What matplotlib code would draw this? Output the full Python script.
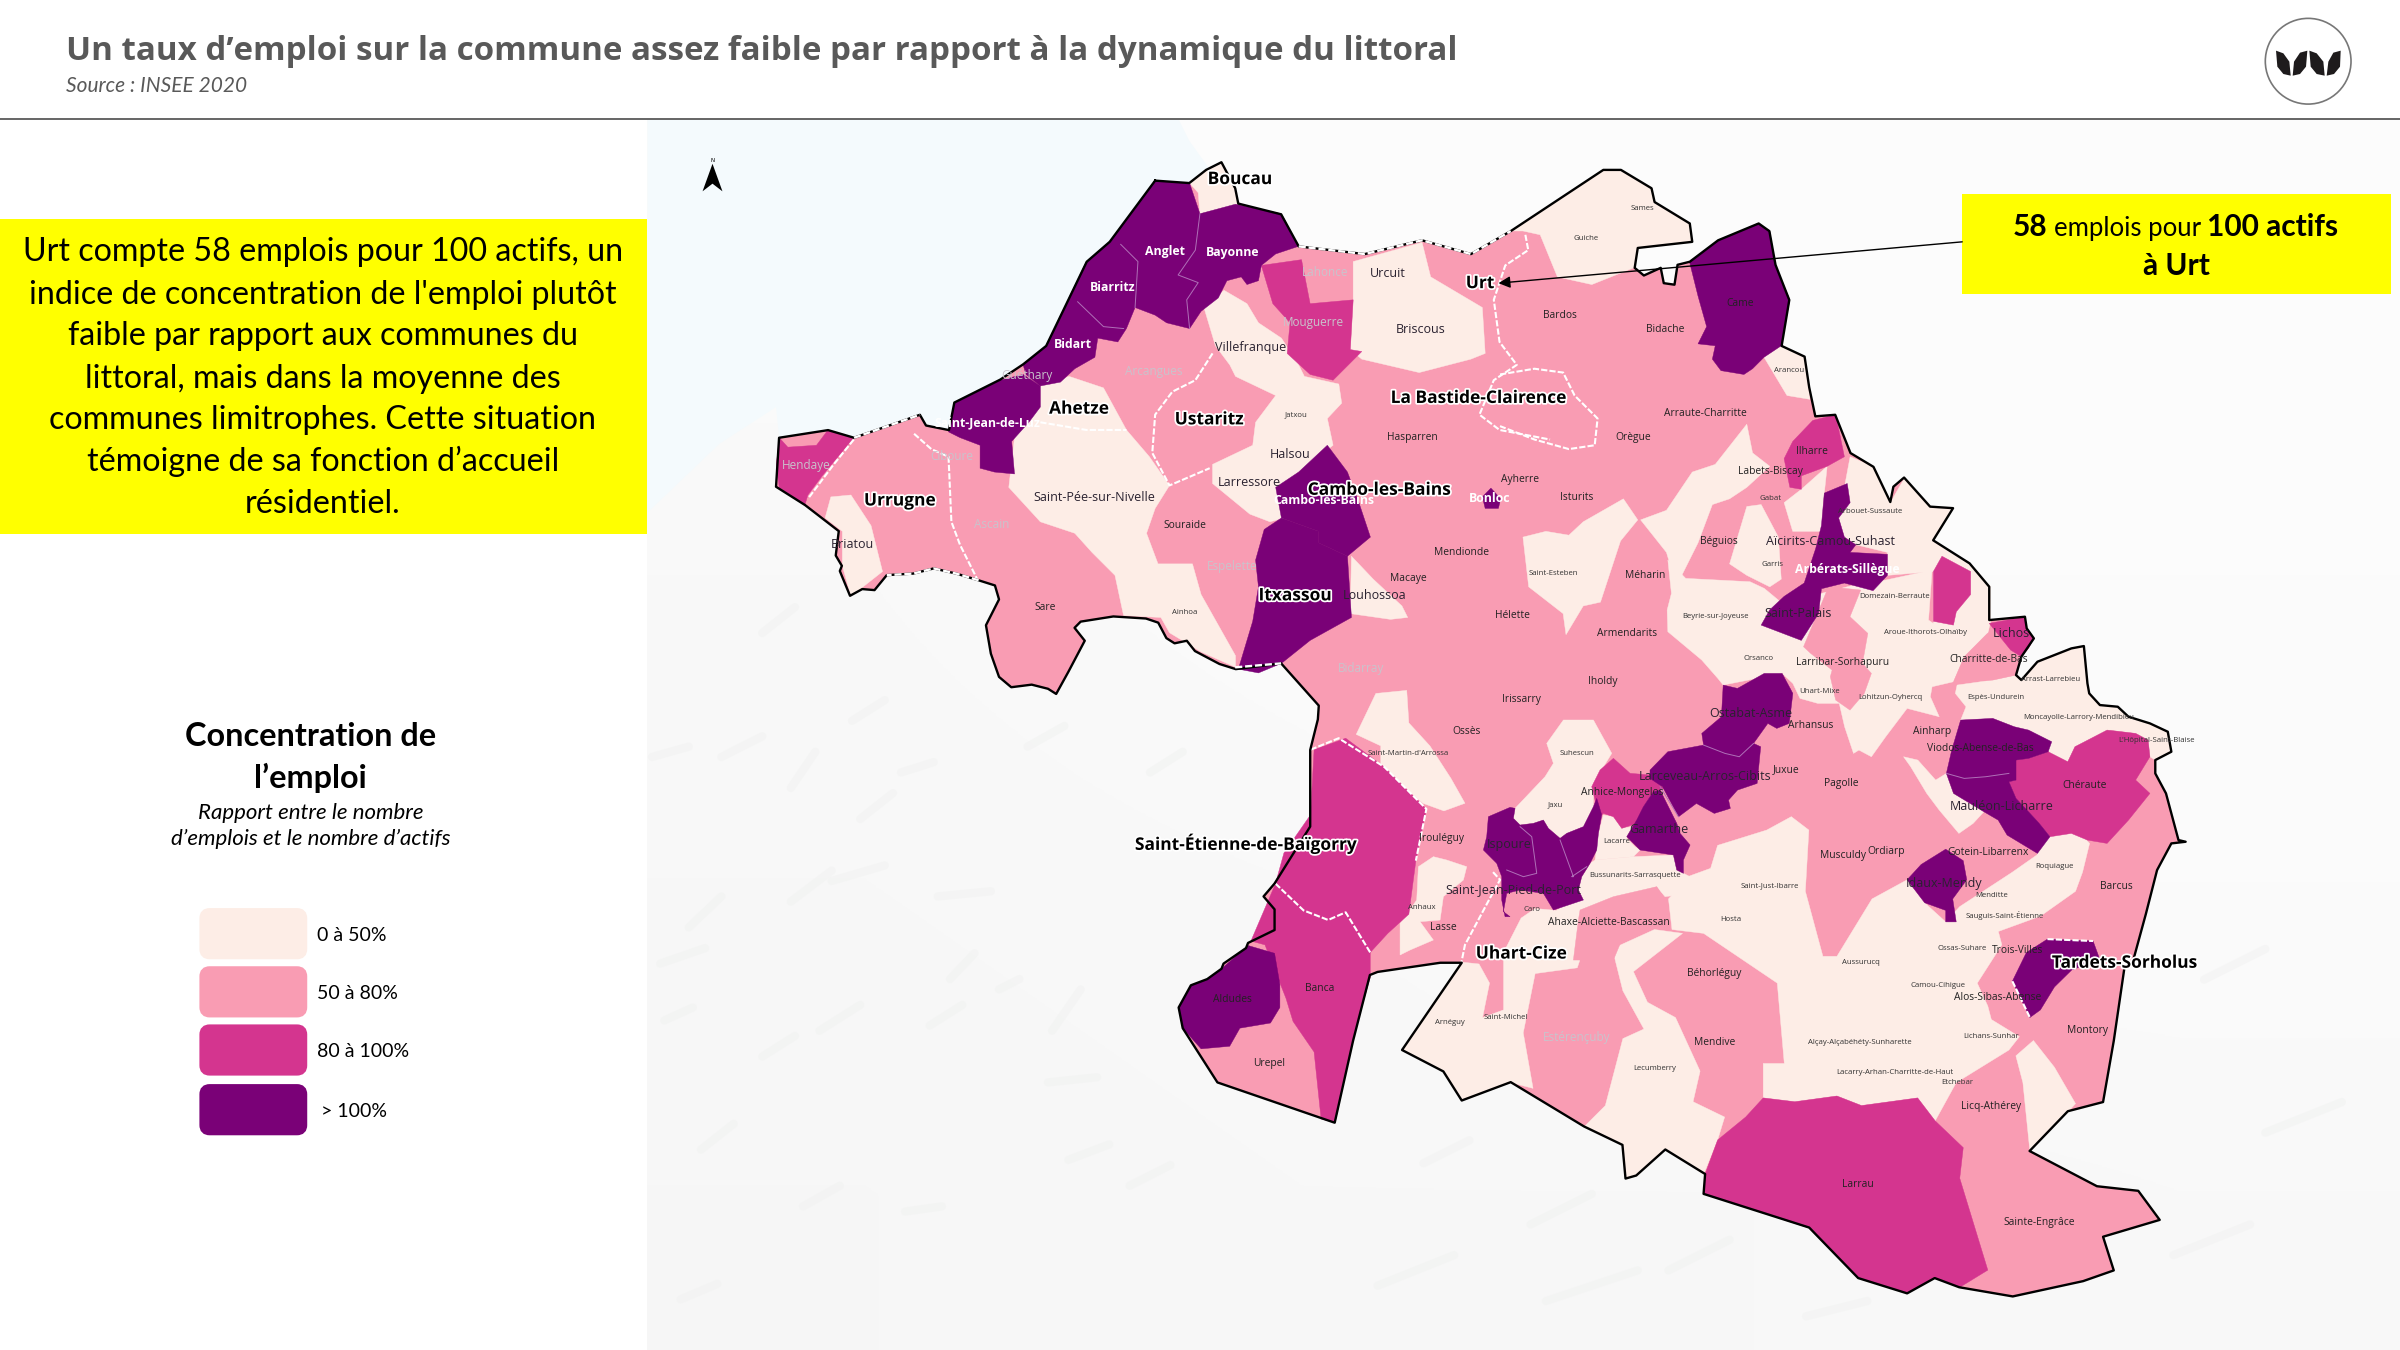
#!/usr/bin/python
import numpy as np
import matplotlib
matplotlib.use('Agg')
import matplotlib.pyplot as plt
import matplotlib.patheffects as pe
from matplotlib.patches import Polygon, Rectangle, Circle, FancyBboxPatch

# crop helpers: shapes were traced on zoomed crops, these bring them back to
# the 1568x882 page grid used by the axes
def z1(p): return [(424.7 + x * .375, 78.4 + y * .25) for x, y in p]
def z2(p): return [(980 + x * .375, 78.4 + y * .25) for x, y in p]
def z3(p): return [(718.7 + x * .4585, 457.3 + y * .25) for x, y in p]
def z4(p): return [(1078 + x * .2333, 365.9 + y * .2178) for x, y in p]
def z6(p): return [((2200 + x / 3) / 1.5306, (y / 3) / 1.5306) for x, y in p]
def z7(p): return [(914.7 + x * .2178, 470.4 + y * .2178) for x, y in p]
def z8(p): return [(418 + x * .2667, 352.8 + y * .3375) for x, y in p]

COL_LOW = '#FDEDE6'
COL_MID = '#F99CB3'
COL_HIGH = '#D4358F'
COL_TOP = '#7A0177'

# outer limit, clockwise from Anglet
OUTLINE = ([(754.7,118),(777,119.6),(788,111),(798,106),(807,123),(809,133),(837,140),(848.5,161),
    (891.6,166),(929,157),(961,166),(987,151),(1047.5,111),(1059,111),(1079,123),(1081,132),(1104,146),
    (1105.6,158),(1070,162),(1068,175),(1074,180),(1085,175),(1087,185),(1094,186),(1096,173),(1104,171),
    (1122.5,157),(1149,146),(1156,151),(1160,173),(1169,196),(1164,226),(1179,233),(1182,253),(1186,272),
    (1199,271),(1209,296),(1224,305),(1235,328),(1237,318),(1244,312),(1261,331),(1276,332),(1263,353)]
    + z4([(895,10),(950,80),(950,180),(1050,170),(1055,205),(1075,235),(1040,290),(1025,345),(1040,360),(1085,305),
          (1180,265),(1215,258),(1225,370),(1230,400),(1260,435),(1310,440),(1340,470),(1400,490),(1450,515),(1460,575),
          (1415,600),(1415,640),(1445,700),(1480,840),(1500,845),(1460,850),(1420,930)])
    + [(1402,597),(1393,630),(1388,632),(1381,680),(1374,720),
    (1351,726),(1326,752),(1370,775),(1397,778),(1411,797),(1374,808),(1381,830),(1361,837),(1315,847),
    (1280,841),(1264,835),(1246,845),(1214,835),(1182,802),(1113,780),(1114,767),(1088,751),(1069,768),
    (1062,770),(1060,748),(1035,736),(987,707),(955,719),(943,700),(916,686),(955,629),(941,629),(900,635),
    (895,637),(884,680),(872,733.5)]
    + z8([(1415,1050),(1330,945),(1320,905),(1350,862),(1390,850),(1425,830),(1430,820),(1485,790),(1490,780),
          (1555,755),(1555,715),(1528,690),(1555,665)])
    + [(856,540),(856,490),(861,470),(861.6,461),(837,433.4)]
    + z8([(1460,250),(1420,240),(1360,215),(1340,195),(1310,200),(1290,190),(1270,160),(1240,152),(1160,148),(1080,158),
          (1065,170),(1090,195),(1050,255),(1020,298),(1000,288),(960,280),(910,285),(880,265),(860,220),(848,165),
          (880,115),(870,88),(830,78),(775,65),(720,55),(670,65),(605,68),(575,97),(545,95),(515,108),(490,60),(495,50),(480,30)])
    + [(548,347),(526,330),(507,318),(509,286),(541,281),(558,286),(601,271),(605,278),(620,281),(623.5,263),(653.5,248),
    (668.5,238),(683.5,226),(710,171),(725,158)])

# stretches of the limit that carry white dashes over the black
DOTTED = [[(848.5,161),(891.6,166),(929,157),(961,166),(987,151)],
    [(558,286),(601,271)],
    z8([(830,78),(775,65),(720,55),(670,65),(605,68)]),
    [(807,436),(837,433.4)]]

SEA = [(423,78),(770,78),(777,92),(790,110),(777,119.6),(754.7,118),(725,158),(710,171),(683.5,226),(668.5,238),
    (653.5,248),(623.5,263),(620,281),(605,278),(601,271),(558,286),(541,281),(509,286),(507,266),(470,290),(423,335)]

# coarse grey tone of the relief background, top to bottom
BG_TONE = [[250, 252, 252, 252], [248, 250, 251, 251], [247, 248, 250, 250], [246, 247, 247, 248]]
# shaded ridges of the relief
RIDGES = z8([(300,180),(380,130)]), z8([(370,480),(430,410)]), z8([(640,450),(720,430)]), z8([(470,660),(600,630)]), \
    z8([(730,690),(860,680)]), z8([(760,850),(820,800)]), z8([(710,940),(790,900)]), z8([(440,950),(540,900)]), \
    z8([(50,820),(160,790)]), z8([(120,750),(200,690)]), z8([(60,930),(130,905)]), z8([(1010,950),(1080,870)]), \
    z8([(880,870),(930,850)]), z8([(1000,1050),(1120,1040)]), z8([(1050,1200),(1150,1170)]), z8([(150,1180),(230,1130)]), \
    z8([(400,1290),(490,1250)]), z8([(100,1470),(190,1440)]), z8([(650,1300),(740,1290)]), z8([(540,540),(620,490)]), \
    z8([(370,700),(470,640)]), z8([(200,420),(300,380)]), z8([(520,350),(600,310)]), z8([(30,420),(120,400)]), \
    z8([(950,400),(1040,360)]), z8([(1250,450),(1330,410)]), z8([(1200,1250),(1300,1210)]), z8([(300,1000),(380,960)]), \
    [(930,760),(960,745)], [(1000,800),(1040,780)], [(1090,830),(1130,810)], [(1180,860),(1220,850)], [(1420,820),(1470,800)], \
    [(1440,640),(1480,620)], [(900,840),(950,820)], [(1480,740),(1530,720)], [(1010,850),(1070,830)]

LOW_AREAS = [
    z1([(940,165),(970,130),(995,112),(1020,180),(1025,220),(958,245),(955,190)]),
    z1([(315,985),(350,980),(385,1060),(405,1180),(350,1245),(335,1165),(335,1075),(305,1040)]),
    z1([(680,695),(730,670),(790,700),(830,810),(870,880),(905,955),(880,1015),(865,1080),(885,1160),(945,1160),
        (960,1240),(1020,1400),(1020,1430),(960,1390),(905,1340),(890,1300),(825,1295),(810,1190),(770,1130),
        (740,1080),(680,1050),(625,960),(635,830),(680,750)]),
    z1([(1000,445),(1040,480),(1060,530),(1100,570),(1130,640),(1140,670),(1200,690),(1205,740),(1180,780),
        (1190,850),(1130,920),(1095,960),(1105,1040),(1080,1050),(1045,1030),(980,950),(980,900),(1050,850),
        (1055,790),(1090,720),(1020,670),(1010,640),(985,590),(965,490)]),
    z1([(1225,370),(1345,320),(1360,410),(1450,490),(1455,610),(1430,625),(1340,660),(1240,625),(1220,600),(1225,470)]),
    z1([(1222,1140),(1260,1200),(1310,1270),(1320,1300),(1290,1305),(1220,1290)]),
    z2([(20,290),(180,130),(210,130),(265,180),(270,215),(330,270),(335,320),(240,335),(235,385),(160,430),(100,410),(70,300),(40,290)]),
    z2([(490,590),(530,620),(540,730),(500,720),(480,670),(460,620)]),
    z2([(430,795),(440,870),(470,905),(430,960),(400,990),(370,1005),(345,1105),(315,1195),(300,1180),(290,1130),
        (245,1045),(290,1020),(335,920),(375,900)]),
    z2([(430,1010),(455,1005),(485,1090),(490,1200),(470,1220),(430,1190),(400,1160)]),
    z2([(40,1090),(80,1075),(120,1085),(145,1050),(215,990),(240,1045),(210,1100),(175,1260),(145,1270),(115,1345),(110,1290),(50,1220)]),
    z2([(495,1000),(525,965),(570,905),(565,975),(560,1075),(510,1075)]),
    z2([(590,1040),(610,880),(650,905),(680,1000),(705,935),(750,1010),(790,1015),(755,1100),(820,1160),(855,1220),
        (855,1310),(850,1340),(755,1340),(755,1180),(675,1190),(675,1130),(620,1110),(600,1090)]),
    z4([(50,0),(100,55),(280,65),(320,85),(365,125),(480,100),(590,70),(660,60),(790,30),(780,180),(820,210),(880,120),
        (900,60),(895,10),(950,80),(950,195),(945,220),(880,290),(850,365),(790,380),(785,410),(810,470),(720,445),
        (660,530),(620,590),(585,570),(570,580),(545,500),(530,430),(470,430),(420,415),(400,370),(370,340),(205,375),
        (190,355),(145,300),(50,215),(48,150),(60,100)]),
    z4([(860,375),(960,360),(1025,345),(1040,360),(1085,305),(1180,265),(1215,258),(1225,370),(1230,400),(1260,435),
        (1310,440),(1340,470),(1400,490),(1450,515),(1460,575),(1415,600),(1400,590),(1395,540),(1360,520),(1290,510),
        (1190,560),(1170,605),(1130,600),(1110,560),(1070,515),(1020,500),(960,475),(870,480),(885,440),(855,400)]),
    z4([(710,590),(750,600),(800,660),(830,640),(850,700),(935,755),(905,790),(865,820),(810,750),(775,700),(730,620)]),
    z3([(840,460),(870,440),(880,380),(950,340),(985,305),(1010,340),(1005,500),(1030,670),(1050,670),(1100,520),
        (1150,470),(1175,530),(1205,580),(1225,540),(1300,450),(1335,405),(1350,340),(1395,345),(1410,375),(1400,450),
        (1390,500),(1340,565),(1280,605),(1285,640),(1250,740),(1265,800),(1270,835),(1310,880),(1295,915),(1220,1000),
        (1190,1100),(1165,1040),(1085,1060),(1050,1035),(990,1050),(945,1040),(945,950),(975,950),(965,740),(860,610),
        (815,600),(810,520)]),
    z3([(730,650),(790,600),(830,610),(760,710),(780,790),(820,830),(855,970),(845,1050),(890,1090),(880,1150),
        (860,1240),(805,1175),(765,1245),(750,1250),(745,1165),(690,1115),(720,1060),(745,885),(775,860),(745,760)]),
    z3([(515,685),(540,690),(555,740),(545,830),(575,810),(575,660),(600,570),(620,545),(650,550),(680,515),(700,525),
        (700,590),(680,700),(620,715),(603,870),(617,1015),(585,1000),(515,1045),(490,970),(430,915)]),
    z7([(100,410),(140,420),(200,440),(190,480),(130,530),(120,600),(60,605),(100,660),(30,690),(0,705),(0,610),(50,540),(55,440)]),
    z3([(393,-17),(437,-25),(440,60),(470,120),(500,205),(520,270),(490,290),(460,270),(400,175),(400,120),(365,90)]),
    z7([(490,0),(580,0),(635,100),(580,190),(580,260),(550,320),(500,340),(480,355),(445,325),(430,300),(400,310),(360,315),
        (340,295),(345,265),(435,170),(460,130),(440,70)]),
    z7([(610,285),(640,290),(665,325),(695,320),(680,355),(705,380),(720,390),(700,410),(585,420),(595,340)]),
    z7([(585,420),(700,410),(820,405),(830,450),(850,460),(870,470),(870,520),(795,530),(770,500),(640,540),(540,570),(550,540),(535,510),(545,470),(570,430)]),
    z3([(1305,930),(1330,890),(1360,960),(1390,1055),(1380,1075),(1325,1180),(1315,1000)]),
]
# pink communes sitting inside the low areas
MID_OVER = [
    z4([(430,260),(500,80),(590,90),(560,170),(610,220),(595,310),(620,340),(600,400),(560,450),(520,420),(505,350),(510,330),(450,280)]),
    z4([(945,220),(985,245),(1025,310),(1025,345),(960,360),(850,365),(880,290)]),
    z7([(540,570),(640,530),(770,500),(795,540),(720,570),(690,610),(665,660),(640,720),(520,720),(535,600)]),
]
HIGH_AREAS = [
    z1([(225,830),(220,900),(225,960),(270,1005),(275,980),(300,930),(355,830),(310,810),(290,850),(240,855)]),
    z1([(1065,380),(1135,365),(1150,480),(1225,470),(1220,600),(1240,605),(1190,680),(1150,665),(1110,610),(1115,530),(1085,480)]),
    z2([(545,785),(585,770),(600,880),(570,905),(525,930),(525,965),(505,960),(495,885),(510,840)]),
    z2([(770,1140),(820,1180),(820,1240),(795,1285),(790,1320),(755,1310),(755,1180)]),
    z4([(950,190),(1050,170),(1055,205),(1075,235),(1060,265),(1040,290),(1010,270)]),
    z4([(1025,600),(1060,595),(1115,575),(1170,605),(1190,560),(1280,510),(1360,520),(1395,540),(1400,590),(1360,660),
        (1400,700),(1340,780),(1280,850),(1225,840),(1180,820),(1120,830),(1090,790),(1060,755),(1025,715),(1005,665),(1025,660)]),
    z7([(640,115),(690,160),(750,165),(790,205),(760,215),(730,260),(710,310),(665,325),(640,290),(610,280),(605,285),(590,260),(575,200),(600,150)]),
    z3([(350,100),(405,175),(465,285),(450,420),(440,560),(410,610),(385,660),(350,560),(325,575),(290,550),(250,480),(262,400),(300,300),(305,130)]),
    z3([(250,480),(290,550),(325,575),(350,555),(385,660),(385,725),(360,890),(335,1105),(315,1095),(305,920),(275,840),(265,780),(235,640),(215,630)]),
    z3([(945,1040),(990,1050),(1050,1035),(1085,1060),(1165,1040),(1190,1100),(1230,1170),(1225,1250),(1265,1490),(1225,1535),
        (1190,1510),(1150,1550),(1080,1510),(1010,1380),(860,1290),(862,1240),(880,1150),(920,1090)]),
]
TOP_AREAS = [
    z1([(880,158),(940,165),(958,245),(1020,220),(1100,245),(1130,330),(1090,350),(1065,380),(1060,420),(1040,430),(1030,410),
        (1005,420),(990,465),(960,500),(940,545),(900,530),(880,510),(845,490),(830,545),(815,580),(780,570),(775,620),(740,650),
        (715,685),(680,695),(655,665),(650,640),(690,590),(760,370),(800,320)]),
    z1([(530,740),(610,680),(650,665),(680,695),(680,750),(660,790),(630,840),(635,925),(600,920),(575,910),(575,850),(540,830),(520,815),(525,780)]),
    z1([(1180,850),(1215,920),(1235,1000),(1255,1090),(1215,1140),(1165,1105),(1165,1075),(1100,1040),(1090,960),(1130,920)]),
    z1([(1100,1040),(1165,1075),(1165,1105),(1215,1140),(1222,1300),(1150,1360),(1100,1420),(1060,1445),(1025,1435),(1050,1310),(1060,1220),(1055,1150),(1070,1070)]),
    z1([(1450,985),(1465,962),(1482,990),(1478,1015),(1455,1015)]),
    z2([(330,370),(380,315),(450,270),(470,290),(480,380),(505,470),(490,590),(460,620),(440,650),(425,665),(385,655),(370,625),(375,590),(345,585),(360,540),(345,460)]),
    z2([(565,975),(605,950),(610,1000),(590,1040),(600,1090),(620,1110),(610,1130),(675,1135),(675,1190),(650,1230),(600,1210),(560,1225),(555,1290),(525,1360),(455,1320),(470,1280),(495,1245),(530,1210),(550,1120),(560,1060)]),
    z4([(205,375),(245,385),(320,340),(370,340),(400,400),(390,490),(355,505),(330,490),(290,550),(310,560),(300,670),(245,690),(220,720),(225,745),(180,760),(130,730),(80,770),(35,680),(0,655),(0,630),(50,575),(150,555),(145,520),(200,470)]),
    z4([(870,480),(960,475),(1020,500),(1060,510),(1125,545),(1115,575),(1060,595),(1025,600),(1025,660),(1005,665),(1025,715),(1060,755),(1090,790),(1120,830),(1085,880),(1000,825),(975,780),(935,755),(850,700),(830,640),(845,570)]),
    z7([(780,210),(830,310),(840,340),(870,375),(850,420),(850,460),(830,450),(820,405),(720,390),(680,350),(710,300),(730,260),(760,215)]),
    z7([(265,290),(330,262),(345,265),(340,295),(360,315),(400,310),(430,300),(445,325),(480,355),(500,340),(550,320),(580,260),(590,235),(605,285),
        (595,340),(590,390),(570,430),(545,470),(535,510),(550,540),(460,570),(430,520),(360,510),(320,520),(310,575),(330,590),(315,590),(305,540),(305,470),(290,430),(250,390),(260,350)]),
    z3([(1205,390),(1230,420),(1235,470),(1215,520),(1220,580),(1205,580),(1205,550),(1175,530),(1150,470),(1170,430)]),
    z8([(1555,800),(1568,860),(1568,905),(1545,935),(1470,945),(1445,980),(1375,985),(1330,945),(1320,905),(1350,862),(1390,850),(1425,830),(1490,785)]),
    z3([(1350,625),(1415,630),(1425,680),(1385,705),(1360,750),(1340,810),(1325,830),(1300,735),(1320,660)]),
]
# dashed white limits between intercommunal groups
DASHED = [
    z1([(460,820),(490,860),(520,880),(525,1050),(540,1110),(570,1200)]),
    z1([(980,610),(950,680),(910,710),(880,770),(875,870),(905,955),(975,910)]),
    z1([(680,790),(760,810),(830,810)]),
    z1([(355,835),(320,900),(290,960),(275,990)]),
    z1([(1525,300),(1530,340),(1490,380),(1470,470),(1480,580),(1510,640),(1470,680),(1445,770),(1480,810),(1568,835)]),
    z2([(0,665),(60,650),(110,660),(130,720),(170,780),(165,850),(120,860),(60,835),(0,800)]),
    z3([(250,480),(290,550),(325,575),(350,555),(385,660)]),
    z3([(300,130),(340,100),(405,175),(465,285),(450,420)]),
    z3([(560,450),(570,470),(555,520),(520,640),(515,685)]),
    z3([(1350,625),(1415,630)]),
    z3([(1300,735),(1325,830)]),
]
THIN = [
    z1([(958,245),(950,340),(920,405),(955,425),(935,470),(940,545)]),
    z1([(820,325),(850,370),(845,490)]),
    z1([(745,475),(790,540),(825,545)]),
    z4([(150,555),(210,580),(250,590),(290,550)]),
    z4([(830,640),(880,655),(940,650),(1005,640)]),
    z7([(360,320),(395,350),(410,460),(370,470),(320,450)]),
    z7([(480,360),(520,470),(515,470),(560,440)]),
    z7([(780,200),(835,290)]),
]

# name, x, y
LABELS_BIG = [('Boucau',810,117),('Urt',967,185),('La Bastide-Clairence',966,260),('Ahetze',705,267),
    ('Ustaritz',790,274),('Urrugne',588,327),('Cambo-les-Bains',901,320),('Itxassou',846,389),
    ('Saint-Étienne-de-Baïgorry',814,551),('Uhart-Cize',994,623),('Tardets-Sorholus',1388,629)]
LABELS_WHITE = [('Anglet',761,164),('Bayonne',805,165),('Biarritz',727,188),('Bidart',701,225),
    ('Saint-Jean-de-Luz',645,276),('Arbérats-Sillègue',1207,372),('Cambo-les-Bains',865,327),('Bonloc',973,326)]
LABELS_PALE = [('Hendaye',527,304),('Guéthary',671,245),('Ciboure',622,298),('Ascain',648,343),('Arcangues',754,243),
    ('Lahonce',866,178),('Mouguerre',858,211),('Espelette',805,370),('Bidarray',889,437),('Estérençuby',1030,678)]
LABELS_MED = [('Urcuit',907,179),('Briscous',928,215),('Villefranque',817,227),('Halsou',843,297),('Larressore',816,315),
    ('Saint-Pée-sur-Nivelle',715,325),('Briatou',557,356),('Louhossoa',898,389),('Saint-Jean-Pied-de-Port',989,581),
    ('Ispoure',986,552),('Gamarthe',1084,542),('Larceveau-Arros-Cibits',1114,507),
    ('Ostabat-Asme',1144,466),('Aïcirits-Camou-Suhast',1196,354),('Saint-Palais',1175,401),
    ('Mauléon-Licharre',1308,527),('Lichos',1314,414),('Idaux-Mendy',1270,577)]
LABELS_SMALL = [('Souraide',774,343),('Sare',683,397),('Hasparren',923,286),('Ayherre',993,313),('Mendionde',955,361),
    ('Macaye',920,378),('Hélette',988,402),('Irissarry',994,457),('Ossès',958,478),('Irouléguy',942,548),('Lasse',943,606),
    ('Ahaxe-Alciette-Bascassan',1051,603),('Arhansus',1183,474),('Juxue',1167,503),('Pagolle',1203,512),('Musculdy',1204,559),
    ('Ordiarp',1232,556),('Béhorléguy',1120,636),('Mendive',1120,681),('Licq-Athérey',1301,723),('Montory',1364,673),
    ('Barcus',1383,579),('Chéraute',1362,513),('Ainharp',1262,478),('Larrau',1214,774),('Sainte-Engrâce',1332,799),
    ('Banca',862,646),('Urepel',829,695),('Aldudes',805,653),('Armendarits',1063,414),('Iholdy',1047,445),('Méharin',1075,376),
    ('Béguios',1123,354),('Labets-Biscay',1157,308),('Ilharre',1184,295),('Isturits',1030,325),('Orègue',1067,286),
    ('Arraute-Charritte',1114,270),('Bidache',1088,215),('Bardos',1019,206),('Came',1137,198),
    ('Anhice-Mongelos',1060,518),('Viodos-Abense-de-Bas',1294,489),('Trois-Villes',1318,621),('Charritte-de-Bas',1299,431),
    ('Larribar-Sorhapuru',1204,433),('Gotein-Libarrenx',1299,557),('Alos-Sibas-Abense',1305,652)]
LABELS_TINY = [('Jatxou',847,271),('Ainhoa',774,400),("Saint-Martin-d'Arrossa",920,492),('Suhescun',1030,492),('Jaxu',1016,526),
    ('Anhaux',929,593),('Arnéguy',947,668),('Saint-Michel',984,665),('Caro',1001,594),('Lacarre',1056,550),
    ('Bussunarits-Sarrasquette',1068,572),('Hosta',1131,601),('Saint-Just-Ibarre',1156,579),('Aussurucq',1216,629),
    ('Lecumberry',1081,698),('Alçay-Alçabéhéty-Sunharette',1215,681),('Lacarry-Arhan-Charritte-de-Haut',1238,701),
    ('Etchebar',1279,707),('Camou-Cihigue',1266,644),('Ossas-Suhare',1282,620),('Lichans-Sunhar',1301,677),('Roquiague',1342,566),
    ('Menditte',1301,585),('Sauguis-Saint-Étienne',1310,598),("L'Hôpital-Saint-Blaise",1409,484),('Moncayolle-Larrory-Mendibieu',1358,469),
    ('Espès-Undurein',1304,456),('Lohitzun-Oyhercq',1235,456),('Uhart-Mixe',1189,452),('Orsanco',1149,430),('Beyrie-sur-Joyeuse',1121,403),
    ('Arrast-Larrebieu',1340,444),('Aroue-Ithorots-Olhaïby',1258,413),('Domezain-Berraute',1238,390),('Garris',1158,369),
    ('Saint-Esteben',1015,375),('Gabat',1157,326),('Arbouet-Sussaute',1222,334),('Arancou',1169,242),('Guiche',1036,156),('Sames',1073,136)]

TITLE = 'Un taux d’emploi sur la commune assez faible par rapport à la dynamique du littoral'
SOURCE = 'Source : INSEE 2020'
BOX_LINES = ['Urt compte 58 emplois pour 100 actifs, un', "indice de concentration de l'emploi plutôt",
    'faible par rapport aux communes du', 'littoral, mais dans la moyenne des',
    'communes limitrophes. Cette situation', 'témoigne de sa fonction d’accueil', 'résidentiel.']
LEGEND_LABELS = ['0 à 50%', '50 à 80%', '80 à 100%', '> 100%']
LEGEND_COLORS = [COL_LOW, COL_MID, COL_HIGH, COL_TOP]
LEAVES = [[(228,152),(250,160),(268,185),(272,227),(250,222),(232,200)],
    [(322,152),(300,158),(282,185),(278,227),(300,222),(318,200)],
    [(328,152),(350,160),(370,185),(374,227),(350,222),(332,200)],
    [(422,152),(400,158),(385,185),(380,227),(402,222),(420,200)]]

fig = plt.figure(figsize=(24, 13.5), dpi=100)
ax = fig.add_axes([0, 0, 1, 1])

# background: soft relief under the map
ax.imshow(np.array(BG_TONE), cmap='gray', vmin=0, vmax=255, extent=(423, 1568, 882, 78),
          interpolation='bilinear', aspect='auto', zorder=0)
for r in RIDGES:
    xs, ys = zip(*r)
    ax.plot(xs, ys, color='#F1F2F1', lw=6, alpha=.55, solid_capstyle='round', zorder=.3)
ax.add_patch(Polygon(SEA, closed=True, color='#F4FAFD', lw=0, zorder=0.5))
ax.set_xlim(0, 1568)
ax.set_ylim(882, 0)
ax.axis('off')
ax.plot([0, 1568], [77.5, 77.5], color='#595959', lw=1.3, zorder=5)

ax.add_patch(Polygon(OUTLINE, closed=True, fc=COL_MID, ec='none', zorder=1))
for shapes, col, z in [(LOW_AREAS, COL_LOW, 2), (MID_OVER, COL_MID, 3), (HIGH_AREAS, COL_HIGH, 4), (TOP_AREAS, COL_TOP, 5)]:
    for s in shapes:
        ax.add_patch(Polygon(s, closed=True, fc=col, ec=col, lw=.3, zorder=z))
for s in THIN:
    xs, ys = zip(*s)
    ax.plot(xs, ys, color='#B070B8', lw=.7, zorder=6)
for s in DASHED:
    xs, ys = zip(*s)
    ax.plot(xs, ys, color='white', lw=1.5, ls=(0, (3, 1)), zorder=6)
xs, ys = zip(*(OUTLINE + OUTLINE[:1]))
ax.plot(xs, ys, color='black', lw=1.7, solid_joinstyle='round', zorder=7)
for s in DOTTED:
    xs, ys = zip(*s)
    ax.plot(xs, ys, color='white', lw=1.7, ls=(0, (3, 1.2)), zorder=7.5)

# commune names
MAP_FONT = ['Open Sans', 'DejaVu Sans']
halo = [pe.withStroke(linewidth=2.5, foreground='white')]
for n, x, y in LABELS_BIG:
    ax.text(x, y, n, fontsize=12.5, fontweight='bold', family=MAP_FONT, ha='center', va='center', zorder=9, path_effects=halo)
for n, x, y in LABELS_WHITE:
    ax.text(x, y, n, fontsize=8.8, fontweight='bold', family=MAP_FONT, color='white', ha='center', va='center', zorder=8)
for n, x, y in LABELS_PALE:
    ax.text(x, y, n, fontsize=8.5, family=MAP_FONT, color='#C9C3CC', ha='center', va='center', zorder=8)
for n, x, y in LABELS_MED:
    ax.text(x, y, n, fontsize=9, family=MAP_FONT, color='#2A2230', ha='center', va='center', zorder=8)
for n, x, y in LABELS_SMALL:
    ax.text(x, y, n, fontsize=7.4, family=MAP_FONT, color='#222222', ha='center', va='center', zorder=8)
for n, x, y in LABELS_TINY:
    ax.text(x, y, n, fontsize=5.6, family=MAP_FONT, color='#333333', ha='center', va='center', zorder=8)

# north arrow
ax.add_patch(Polygon([(465.5, 107), (472, 125), (465.5, 120), (459, 125)], closed=True, fc='black', ec='none', zorder=8))
ax.text(465.5, 105, 'N', fontsize=4, ha='center', va='center', zorder=8)

# header
ax.text(43, 33.5, TITLE, fontsize=23.9, fontweight='bold', family='Open Sans', color='#595959', ha='left', va='center', zorder=9)
ax.text(43, 56, SOURCE, fontsize=15, style='italic', family='Lato', color='#595959', ha='left', va='center', zorder=9)
ax.add_patch(Circle((1508, 40), 28, fc='white', ec='#777777', lw=1.2, zorder=9))
for leaf in LEAVES:
    ax.add_patch(Polygon(z6(leaf), closed=True, fc='#1E1B1C', ec='none', zorder=10))

# left text box
ax.add_patch(Rectangle((0, 143), 423, 206, fc='#FFFF00', ec='none', zorder=9))
for line, y in zip(BOX_LINES, [164.5, 192.5, 219.5, 247.5, 274.5, 301.5, 329.5]):
    ax.text(211, y, line, fontsize=23.2, family='Lato', ha='center', va='center', zorder=10)

# callout box and its arrow
ax.add_patch(Rectangle((1282, 127), 280, 65, fc='#FFFF00', ec='none', zorder=9))
ax.annotate('', xy=(979, 185), xytext=(1282, 158), zorder=10,
            arrowprops=dict(arrowstyle='-|>,head_length=.7,head_width=.35', color='black', lw=1, shrinkA=0, shrinkB=0))
ax.text(1315, 148, '58', fontsize=21.5, fontweight='bold', family='Lato', ha='left', va='center', zorder=10)
ax.text(1342, 149, 'emplois pour', fontsize=18.5, family='Lato', ha='left', va='center', zorder=10)
ax.text(1442, 148, '100 actifs', fontsize=21.5, fontweight='bold', family='Lato', ha='left', va='center', zorder=10)
ax.text(1422, 174, 'à Urt', fontsize=21.5, fontweight='bold', family='Lato', ha='center', va='center', zorder=10)

# legend
ax.text(203, 481, 'Concentration de', fontsize=23.3, fontweight='bold', family='Lato', ha='center', va='center')
ax.text(203, 508, 'l’emploi', fontsize=23.3, fontweight='bold', family='Lato', ha='center', va='center')
ax.text(203, 531, 'Rapport entre le nombre', fontsize=16, style='italic', family='Lato', ha='center', va='center')
ax.text(203, 548, 'd’emplois et le nombre d’actifs', fontsize=16, style='italic', family='Lato', ha='center', va='center')
for lab, col, y in zip(LEGEND_LABELS, LEGEND_COLORS, [593, 631, 669, 708]):
    ax.add_patch(FancyBboxPatch((133, y + 3), 65, 28, boxstyle='round,pad=0,rounding_size=4', mutation_aspect=1,
                                fc=col, ec=col, lw=6, zorder=2))
    ax.text(207 + (3 if lab.startswith('>') else 0), y + 18, lab, fontsize=14, family='Lato', ha='left', va='center')

fig.savefig('out.png', dpi=100)
